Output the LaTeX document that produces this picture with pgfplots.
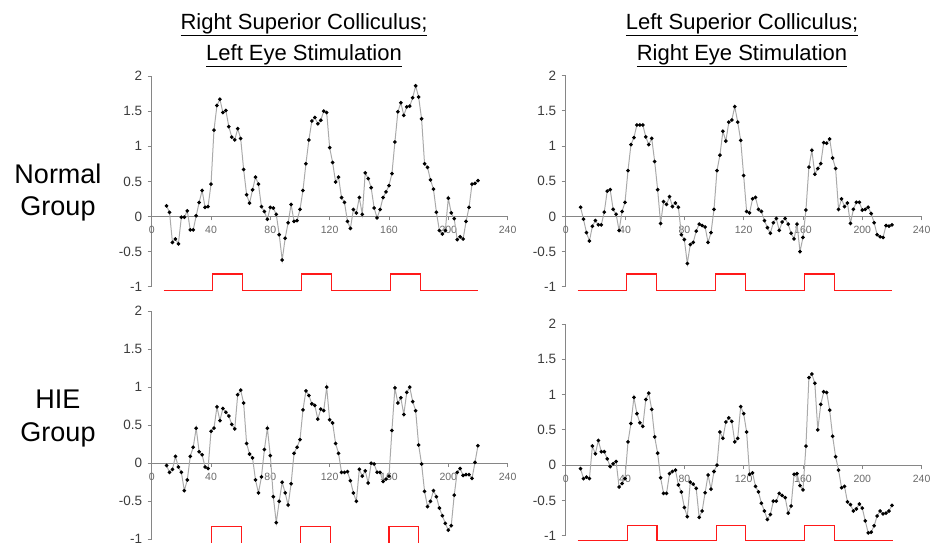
\documentclass[border=0pt]{standalone}
\usepackage{fontspec}
\setmainfont{Liberation Sans}
\usepackage{pgfplots}
\pgfplotsset{compat=1.18}

\definecolor{axgray}{RGB}{134,134,134}
\definecolor{linegray}{RGB}{170,170,170}
\definecolor{ylab}{RGB}{60,60,60}
\definecolor{xlab}{RGB}{105,105,105}
\definecolor{stimred}{RGB}{255,25,25}

\pgfplotsset{
    panel/.style={
        scale only axis, width=355.9pt, anchor=south west,
        xmin=0, xmax=240, ymin=-1, ymax=2,
        axis lines=middle, axis line style={-, axgray, line width=1pt},
        hide obscured x ticks=false, hide obscured y ticks=false,
        xtick={0,40,80,120,160,200,240}, xticklabels={0,40,80,120,160,200,240},
        ytick={-1,-0.5,0,0.5,1,1.5,2}, yticklabels={-1,-0.5,0,0.5,1,1.5,2},
        tick align=outside, major tick length=4pt,
        tick style={axgray, line width=0.8pt},
        x tick label style={font=\fontsize{10.5}{12}\selectfont, text=xlab, yshift=-2pt},
        y tick label style={font=\fontsize{13.5}{15}\selectfont, text=ylab, xshift=-2pt},
        clip=false,
    },
    sig/.style={linegray, line width=1pt, mark=*, mark size=1.3pt,
        mark options={draw=black, fill=black}},
    stim/.style={stimred, line width=1.2pt, no marks},
}

\begin{document}
\begin{tikzpicture}[x=1pt, y=1pt]
\tikzset{ttl/.style={anchor=base, font=\fontsize{22}{26}\selectfont},
         grp/.style={anchor=base, font=\fontsize{27}{32}\selectfont}}

% titles and row labels
\node[ttl] at (304,-29) {\underline{Right Superior Colliculus;}};
\node[ttl] at (304,-60) {\underline{Left Eye Stimulation}};
\node[ttl] at (742,-29) {\underline{Left Superior Colliculus;}};
\node[ttl] at (742,-60) {\underline{Right Eye Stimulation}};
\node[grp] at (58,-183) {Normal};
\node[grp] at (58,-215) {Group};
\node[grp] at (58,-408) {HIE};
\node[grp] at (58,-441) {Group};

% normal group, right SC
\begin{axis}[panel, height=210.7pt, at={(151.7pt,-286.7pt)}]
\addplot[sig] coordinates {
(10,0.15)(12,0.06)(14,-0.37)(16,-0.32)(18,-0.39)(20,-0.01)(22,-0.01)(24,0.08)(26,-0.19)(28,-0.19)
(30,0.01)(32,0.20)(34,0.37)(36,0.13)(38,0.14)(40,0.46)(42,1.23)(44,1.58)(46,1.67)(48,1.48)
(50,1.51)(52,1.28)(54,1.13)(56,1.09)(58,1.25)(60,1.11)(62,0.67)(64,0.31)(66,0.19)(68,0.38)
(70,0.56)(72,0.46)(74,0.14)(76,0.07)(78,-0.04)(80,0.13)(82,0.12)(84,0.03)(86,-0.26)(88,-0.62)
(90,-0.31)(92,-0.09)(94,0.17)(96,-0.07)(98,-0.06)(100,0.10)(102,0.37)(104,0.75)(106,1.09)(108,1.36)
(110,1.41)(112,1.32)(114,1.37)(116,1.50)(118,1.48)(120,0.98)(122,0.77)(124,0.49)(126,0.56)(128,0.27)
(130,0.20)(132,-0.07)(134,-0.17)(136,0.10)(138,0.05)(140,0.27)(142,0.03)(144,0.62)(146,0.54)(148,0.41)
(150,0.12)(152,-0.02)(154,0.10)(156,0.27)(158,0.35)(160,0.44)(162,0.61)(164,1.06)(166,1.49)(168,1.62)
(170,1.44)(172,1.56)(174,1.57)(176,1.69)(178,1.86)(180,1.70)(182,1.39)(184,0.75)(186,0.70)(188,0.52)
(190,0.39)(192,0.06)(194,-0.20)(196,-0.25)(198,-0.20)(200,0.26)(202,0.05)(204,-0.03)(206,-0.33)(208,-0.29)
(210,-0.32)(212,-0.07)(214,0.13)(216,0.46)(218,0.47)(220,0.51)};
\addplot[stim] coordinates {(8,-1.05)(41,-1.05)(41,-0.82)(61,-0.82)(61,-1.05)(101,-1.05)(101,-0.82)
(121,-0.82)(121,-1.05)(161,-1.05)(161,-0.82)(181,-0.82)(181,-1.05)(220,-1.05)};
\end{axis}

% normal group, left SC
\begin{axis}[panel, height=211pt, at={(565.7pt,-286.7pt)}]
\addplot[sig] coordinates {
(10,0.13)(12,-0.04)(14,-0.23)(16,-0.35)(18,-0.14)(20,-0.06)(22,-0.12)(24,-0.12)(26,0.06)(28,0.36)
(30,0.38)(32,0.10)(34,0.03)(36,-0.20)(38,0.07)(40,0.20)(42,0.65)(44,1.02)(46,1.12)(48,1.30)
(50,1.30)(52,1.30)(54,1.13)(56,1.02)(58,1.11)(60,0.78)(62,0.38)(64,-0.10)(66,0.21)(68,0.17)
(70,0.28)(72,0.14)(74,0.19)(76,0.13)(78,-0.26)(80,-0.33)(82,-0.67)(84,-0.40)(86,-0.37)(88,-0.21)
(90,-0.11)(92,-0.13)(94,-0.15)(96,-0.37)(98,-0.23)(100,0.10)(102,0.65)(104,0.87)(106,1.21)(108,1.07)
(110,1.34)(112,1.37)(114,1.56)(116,1.34)(118,1.08)(120,0.58)(122,0.07)(124,0.05)(126,0.25)(128,0.27)
(130,0.10)(132,0.07)(134,-0.06)(136,-0.16)(138,-0.24)(140,-0.09)(142,-0.03)(144,-0.20)(146,-0.08)(148,-0.03)
(150,-0.11)(152,-0.24)(154,-0.32)(156,-0.11)(158,-0.50)(160,-0.30)(162,0.09)(164,0.70)(166,0.94)(168,0.60)
(170,0.68)(172,0.75)(174,1.05)(176,1.04)(178,1.10)(180,0.83)(182,0.68)(184,0.10)(186,0.25)(188,0.14)
(190,0.19)(192,-0.10)(194,0.10)(196,0.20)(198,0.20)(200,0.09)(202,0.10)(204,0.13)(206,0.04)(208,-0.09)
(210,-0.26)(212,-0.29)(214,-0.30)(216,-0.13)(218,-0.14)(220,-0.12)};
\addplot[stim] coordinates {(8,-1.05)(41,-1.05)(41,-0.82)(61,-0.82)(61,-1.05)(101,-1.05)(101,-0.82)
(121,-0.82)(121,-1.05)(161,-1.05)(161,-0.82)(181,-0.82)(181,-1.05)(220,-1.05)};
\end{axis}

% HIE group, right SC
\begin{axis}[panel, height=228.3pt, at={(151.7pt,-539.3pt)}]
\addplot[sig] coordinates {
(10,-0.03)(12,-0.12)(14,-0.08)(16,0.09)(18,-0.05)(20,-0.12)(22,-0.36)(24,-0.22)(26,0.09)(28,0.21)
(30,0.46)(32,0.15)(34,0.11)(36,-0.05)(38,-0.07)(40,0.42)(42,0.46)(44,0.74)(46,0.56)(48,0.72)
(50,0.67)(52,0.62)(54,0.51)(56,0.45)(58,0.90)(60,0.96)(62,0.79)(64,0.26)(66,0.12)(68,0.07)
(70,-0.22)(72,-0.39)(74,-0.18)(76,0.18)(78,0.46)(80,0.10)(82,-0.44)(84,-0.78)(86,-0.50)(88,-0.25)
(90,-0.39)(92,-0.55)(94,-0.27)(96,0.13)(98,0.21)(100,0.31)(102,0.70)(104,0.95)(106,0.89)(108,0.78)
(110,0.76)(112,0.58)(114,0.71)(116,0.69)(118,1.00)(120,0.57)(122,0.53)(124,0.26)(126,0.13)(128,-0.12)
(130,-0.12)(132,-0.11)(134,-0.23)(136,-0.39)(138,-0.50)(140,-0.08)(142,-0.17)(144,-0.10)(146,-0.26)(148,0.00)
(150,-0.01)(152,-0.12)(154,-0.12)(156,-0.24)(158,-0.21)(160,-0.17)(162,0.43)(164,0.99)(166,0.79)(168,0.86)
(170,0.64)(172,0.93)(174,1.00)(176,0.81)(178,0.69)(180,0.24)(182,-0.01)(184,-0.37)(186,-0.57)(188,-0.50)
(190,-0.36)(192,-0.44)(194,-0.59)(196,-0.69)(198,-0.79)(200,-0.88)(202,-0.82)(204,-0.42)(206,-0.12)(208,-0.07)
(210,-0.16)(212,-0.15)(214,-0.15)(216,-0.20)(218,0.01)(220,0.23)};
\addplot[stim] coordinates {(8,-1.05)(40.5,-1.05)(40.5,-0.83)(60.5,-0.83)(60.5,-1.05)(100.5,-1.05)(100.5,-0.83)
(120.5,-0.83)(120.5,-1.05)(160,-1.05)(160,-0.83)(180,-0.83)(180,-1.05)(220,-1.05)};
\end{axis}

% HIE group, left SC
\begin{axis}[panel, height=211.7pt, at={(565.7pt,-535.7pt)}]
\addplot[sig] coordinates {
(10,-0.05)(12,-0.19)(14,-0.17)(16,-0.19)(18,0.27)(20,0.16)(22,0.35)(24,0.19)(26,0.19)(28,0.09)
(30,-0.02)(32,0.02)(34,0.05)(36,-0.31)(38,-0.26)(40,-0.19)(42,0.33)(44,0.59)(46,0.96)(48,0.73)
(50,0.60)(52,0.55)(54,0.93)(56,1.02)(58,0.79)(60,0.40)(62,0.17)(64,-0.18)(66,-0.40)(68,-0.40)
(70,-0.12)(72,-0.09)(74,-0.07)(76,-0.28)(78,-0.38)(80,-0.60)(82,-0.73)(84,-0.24)(86,-0.27)(88,-0.33)
(90,-0.74)(92,-0.65)(94,-0.39)(96,-0.14)(98,-0.34)(100,-0.09)(102,0.00)(104,0.47)(106,0.38)(108,0.61)
(110,0.67)(112,0.62)(114,0.33)(116,0.38)(118,0.83)(120,0.73)(122,0.47)(124,-0.13)(126,-0.11)(128,-0.30)
(130,-0.38)(132,-0.54)(134,-0.65)(136,-0.77)(138,-0.70)(140,-0.51)(142,-0.51)(144,-0.40)(146,-0.43)(148,-0.46)
(150,-0.68)(152,-0.58)(154,-0.13)(156,-0.12)(158,-0.29)(160,-0.35)(162,0.27)(164,1.24)(166,1.29)(168,1.16)
(170,0.50)(172,0.86)(174,1.04)(176,1.03)(178,0.78)(180,0.41)(182,0.12)(184,-0.07)(186,-0.32)(188,-0.30)
(190,-0.52)(192,-0.56)(194,-0.65)(196,-0.62)(198,-0.55)(200,-0.61)(202,-0.79)(204,-0.96)(206,-0.95)(208,-0.86)
(210,-0.72)(212,-0.65)(214,-0.69)(216,-0.68)(218,-0.65)(220,-0.57)};
\addplot[stim] coordinates {(8,-1.07)(41.5,-1.07)(41.5,-0.85)(61.5,-0.85)(61.5,-1.07)(101.5,-1.07)(101.5,-0.85)
(121.5,-0.85)(121.5,-1.07)(161,-1.07)(161,-0.85)(181,-0.85)(181,-1.07)(221,-1.07)};
\end{axis}

\pgfresetboundingbox
\path[use as bounding box] (0pt,0pt) rectangle (945pt,-542pt);
\end{tikzpicture}
\end{document}
